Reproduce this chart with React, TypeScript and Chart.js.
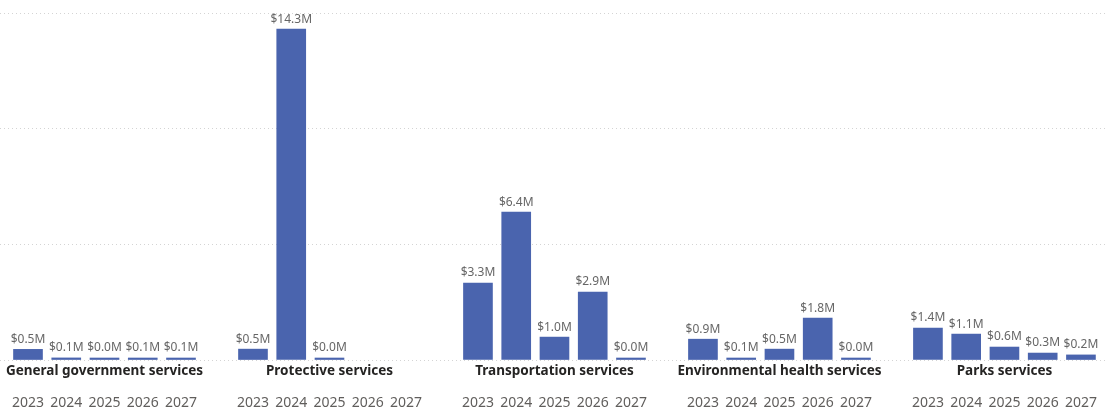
import { useEffect, useRef } from 'react';
import { Chart, registerables } from 'chart.js';

Chart.register(...registerables);

// Service areas and budget years
const groups = [
  'General government services',
  'Protective services',
  'Transportation services',
  'Environmental health services',
  'Parks services',
];
const years = ['2023', '2024', '2025', '2026', '2027'];

// Spending per year, in millions of dollars (null = no spending recorded)
const generalGovernment: (number | null)[] = [0.46, 0.09, 0.04, 0.07, 0.08];
const protective: (number | null)[] = [0.47, 14.3, 0.03, null, null];
const transportation: (number | null)[] = [3.33, 6.39, 0.99, 2.94, 0.02];
const environmentalHealth: (number | null)[] = [0.9, 0.08, 0.47, 1.81, 0.02];
const parks: (number | null)[] = [1.38, 1.12, 0.56, 0.3, 0.22];

const seriesByGroup = [generalGovernment, protective, transportation, environmentalHealth, parks];

// Value axis
const yMin = 0;
const yMax = 15;
const yStep = 5;

// Distance between the first bars of neighbouring groups, in category units
const GROUP_SPAN = 5.882;

const FONT = '"Segoe UI", "Noto Sans", "Open Sans", sans-serif';
const BAR_COLOR = '#4A64AE';

const formatValue = (v: number) => `$${v.toFixed(1)}M`;

const labelsPlugin = {
  id: 'groupLabels',
  afterDatasetsDraw(chart: any) {
    const ctx = chart.ctx as CanvasRenderingContext2D;
    const xScale = chart.scales.x;
    const area = chart.chartArea;
    const meta = chart.getDatasetMeta(0);
    const points = chart.data.datasets[0].data as { x: number; y: number }[];

    ctx.save();
    // value labels above each bar
    ctx.font = `12px ${FONT}`;
    ctx.fillStyle = '#666666';
    ctx.textAlign = 'center';
    ctx.textBaseline = 'bottom';
    meta.data.forEach((bar: any, i: number) => {
      ctx.fillText(formatValue(points[i].y), bar.x, bar.y - 4);
    });

    // group titles and year labels under the baseline
    groups.forEach((g, gi) => {
      const first = xScale.getPixelForValue(gi * GROUP_SPAN);
      const last = xScale.getPixelForValue(gi * GROUP_SPAN + years.length - 1);
      ctx.font = `bold 13.5px ${FONT}`;
      ctx.fillStyle = '#252423';
      ctx.textBaseline = 'middle';
      ctx.fillText(g, (first + last) / 2, area.bottom + 11);

      ctx.font = `14px ${FONT}`;
      ctx.fillStyle = '#605E5C';
      years.forEach((yr, yi) => {
        ctx.fillText(yr, xScale.getPixelForValue(gi * GROUP_SPAN + yi), area.bottom + 43);
      });
    });
    ctx.restore();
  },
};

export default function App() {
  const canvasRef = useRef<HTMLCanvasElement | null>(null);

  useEffect(() => {
    if (!canvasRef.current) return;
    const points: { x: number; y: number }[] = [];
    seriesByGroup.forEach((series, gi) => {
      series.forEach((v, yi) => {
        if (v !== null) points.push({ x: gi * GROUP_SPAN + yi, y: v });
      });
    });

    const chart = new Chart(canvasRef.current, {
      type: 'bar',
      data: {
        datasets: [
          {
            data: points as any,
            backgroundColor: BAR_COLOR,
            barThickness: 29,
            minBarLength: 2,
          },
        ],
      },
      options: {
        animation: false,
        responsive: true,
        maintainAspectRatio: false,
        layout: { padding: { top: 13, bottom: 60, left: 0, right: 0 } },
        plugins: {
          legend: { display: false },
          tooltip: { enabled: false },
        },
        scales: {
          x: {
            type: 'linear',
            display: false,
            offset: false,
            min: -0.732,
            max: -0.732 + 1106 / 38.25,
          },
          y: {
            min: yMin,
            max: yMax,
            afterFit: (s: any) => {
              s.width = 0;
            },
            ticks: { display: false, stepSize: yStep },
            border: { display: false, dash: [1, 3] },
            grid: {
              color: '#d4d4d4',
              lineWidth: 1,
              drawTicks: false,
            },
            afterBuildTicks: (s: any) => {
              s.ticks = [];
              for (let v = yMin; v <= yMax; v += yStep) s.ticks.push({ value: v });
            },
          },
        },
      },
      plugins: [labelsPlugin],
    });

    return () => chart.destroy();
  }, []);

  return (
    <div style={{ position: 'fixed', left: 0, top: 0, width: 1106, height: 420, background: '#ffffff' }}>
      <canvas ref={canvasRef} />
    </div>
  );
}
